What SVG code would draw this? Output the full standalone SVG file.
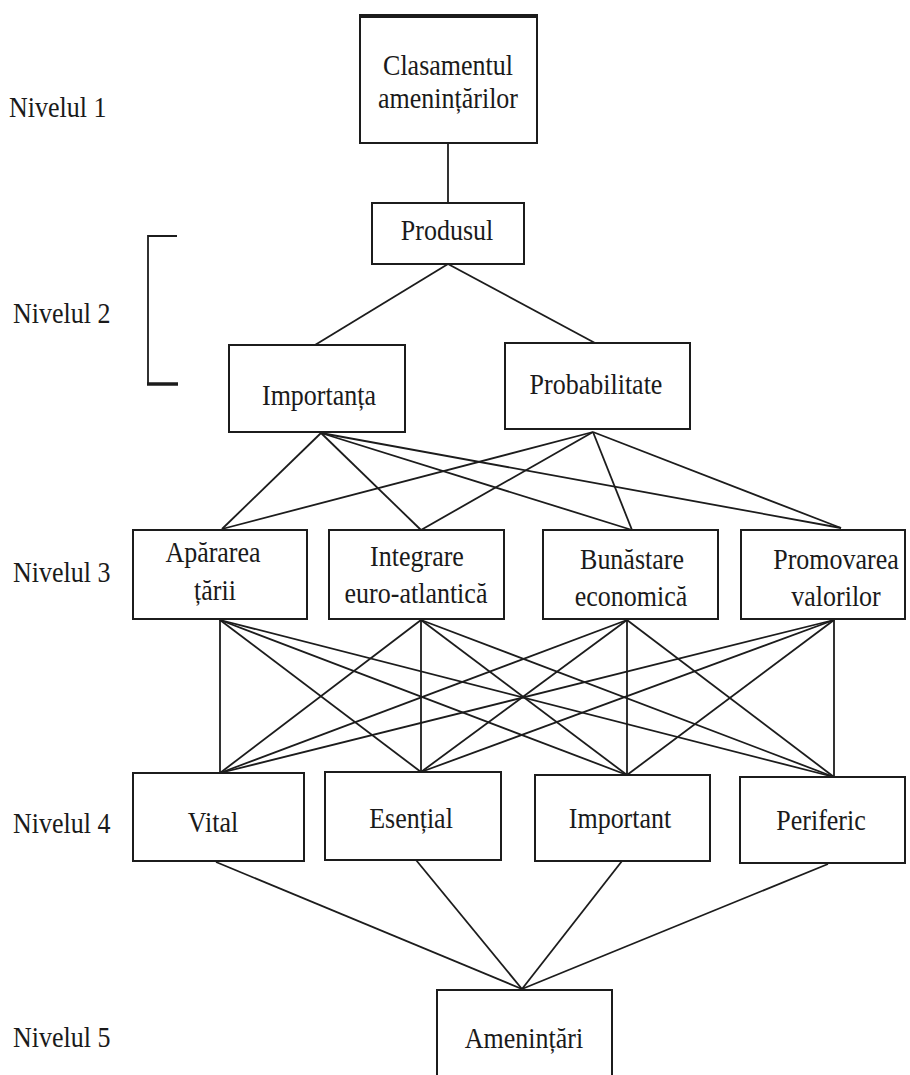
<svg xmlns="http://www.w3.org/2000/svg" width="910" height="1075" viewBox="0 0 910 1075">
<style>
  .box { fill: #ffffff; stroke: #1c1c1c; stroke-width: 2; }
  .t { font-family: "Liberation Serif", "Times New Roman", serif; font-size: 26px; fill: #1a1a1a; text-anchor: middle; }
  .lv { font-family: "Liberation Serif", "Times New Roman", serif; font-size: 26px; fill: #1a1a1a; }
  .c { stroke: #1c1c1c; stroke-width: 1.8; fill: none; }
</style>
<rect width="910" height="1075" fill="#ffffff"/>

<g id="levels">
  <text class="lv" transform="translate(9,117) scale(1,1.15)">Nivelul 1</text>
  <text class="lv" transform="translate(13,323) scale(1,1.15)">Nivelul 2</text>
  <text class="lv" transform="translate(13,582) scale(1,1.15)">Nivelul 3</text>
  <text class="lv" transform="translate(13,833) scale(1,1.15)">Nivelul 4</text>
  <text class="lv" transform="translate(13,1047) scale(1,1.15)">Nivelul 5</text>
  <path d="M177,236 H148 V384" class="c"/>
  <path d="M147,384 H178" stroke="#1c1c1c" stroke-width="3.5"/>
</g>

<g id="connectors">
  <line class="c" x1="448" y1="143" x2="448" y2="203"/>
  <line class="c" x1="448" y1="264" x2="315" y2="345"/>
  <line class="c" x1="448" y1="264" x2="595" y2="343"/>
  <!-- level 2 to level 3 -->
  <line class="c" x1="321" y1="433" x2="222" y2="529"/>
  <line class="c" x1="321" y1="433" x2="421" y2="530"/>
  <line class="c" x1="321" y1="433" x2="632" y2="530"/>
  <line class="c" x1="321" y1="433" x2="841" y2="528"/>
  <line class="c" x1="593" y1="432" x2="222" y2="529"/>
  <line class="c" x1="593" y1="432" x2="421" y2="530"/>
  <line class="c" x1="593" y1="432" x2="632" y2="530"/>
  <line class="c" x1="593" y1="432" x2="841" y2="528"/>
  <!-- level 3 to level 4 -->
  <line class="c" x1="220" y1="620" x2="220" y2="773"/>
  <line class="c" x1="220" y1="620" x2="421" y2="772"/>
  <line class="c" x1="220" y1="620" x2="627" y2="775"/>
  <line class="c" x1="220" y1="620" x2="834" y2="777"/>
  <line class="c" x1="421" y1="620" x2="220" y2="773"/>
  <line class="c" x1="421" y1="620" x2="421" y2="772"/>
  <line class="c" x1="421" y1="620" x2="627" y2="775"/>
  <line class="c" x1="421" y1="620" x2="834" y2="777"/>
  <line class="c" x1="627" y1="620" x2="220" y2="773"/>
  <line class="c" x1="627" y1="620" x2="421" y2="772"/>
  <line class="c" x1="627" y1="620" x2="627" y2="775"/>
  <line class="c" x1="627" y1="620" x2="834" y2="777"/>
  <line class="c" x1="834" y1="620" x2="220" y2="773"/>
  <line class="c" x1="834" y1="620" x2="421" y2="772"/>
  <line class="c" x1="834" y1="620" x2="627" y2="775"/>
  <line class="c" x1="834" y1="620" x2="834" y2="777"/>
  <!-- level 4 to level 5 -->
  <line class="c" x1="216" y1="862" x2="522" y2="989"/>
  <line class="c" x1="416" y1="860" x2="522" y2="989"/>
  <line class="c" x1="622" y1="861" x2="522" y2="989"/>
  <line class="c" x1="828" y1="864" x2="522" y2="989"/>
</g>

<g id="n-clasament">
  <rect class="box" x="360" y="16" width="177" height="127"/>
  <line x1="359" y1="16" x2="538" y2="16" stroke="#1c1c1c" stroke-width="4"/>
  <text class="t" transform="translate(448,75) scale(1,1.15)">Clasamentul</text>
  <text class="t" transform="translate(448,108) scale(1,1.15)">amenințărilor</text>
</g>

<g id="n-produsul">
  <rect class="box" x="372" y="203" width="152" height="61"/>
  <text class="t" transform="translate(447,240) scale(1,1.15)">Produsul</text>
</g>

<g id="n-importanta">
  <rect class="box" x="229" y="345" width="176" height="87"/>
  <text class="t" transform="translate(319,405) scale(1,1.15)">Importanța</text>
</g>

<g id="n-probabilitate">
  <rect class="box" x="505" y="343" width="185" height="86"/>
  <text class="t" transform="translate(596,394) scale(1,1.15)">Probabilitate</text>
</g>

<g id="n-apararea">
  <rect class="box" x="133" y="530" width="174" height="89"/>
  <text class="t" transform="translate(213,562) scale(1,1.15)">Apărarea</text>
  <text class="t" transform="translate(215,600) scale(1,1.15)">țării</text>
</g>

<g id="n-integrare">
  <rect class="box" x="329" y="530" width="175" height="89"/>
  <text class="t" transform="translate(417,566) scale(1,1.15)">Integrare</text>
  <text class="t" transform="translate(416,603) scale(1,1.15)">euro-atlantică</text>
</g>

<g id="n-bunastare">
  <rect class="box" x="543" y="530" width="175" height="89"/>
  <text class="t" transform="translate(632,569) scale(1,1.15)">Bunăstare</text>
  <text class="t" transform="translate(631,606) scale(1,1.15)">economică</text>
</g>

<g id="n-promovarea">
  <rect class="box" x="741" y="530" width="164" height="89"/>
  <text class="t" transform="translate(836,569) scale(1,1.15)">Promovarea</text>
  <text class="t" transform="translate(836,606) scale(1,1.15)">valorilor</text>
</g>

<g id="n-vital">
  <rect class="box" x="133" y="773" width="171" height="88"/>
  <text class="t" transform="translate(213,832) scale(1,1.15)">Vital</text>
</g>

<g id="n-esential">
  <rect class="box" x="325" y="772" width="176" height="88"/>
  <text class="t" transform="translate(411,828) scale(1,1.15)">Esențial</text>
</g>

<g id="n-important">
  <rect class="box" x="535" y="775" width="175" height="86"/>
  <text class="t" transform="translate(620,828) scale(1,1.15)">Important</text>
</g>

<g id="n-periferic">
  <rect class="box" x="740" y="777" width="165" height="86"/>
  <text class="t" transform="translate(821,830) scale(1,1.15)">Periferic</text>
</g>

<g id="n-amenintari">
  <rect class="box" x="437" y="990" width="175" height="100"/>
  <text class="t" transform="translate(524,1048) scale(1,1.15)">Amenințări</text>
</g>
</svg>
